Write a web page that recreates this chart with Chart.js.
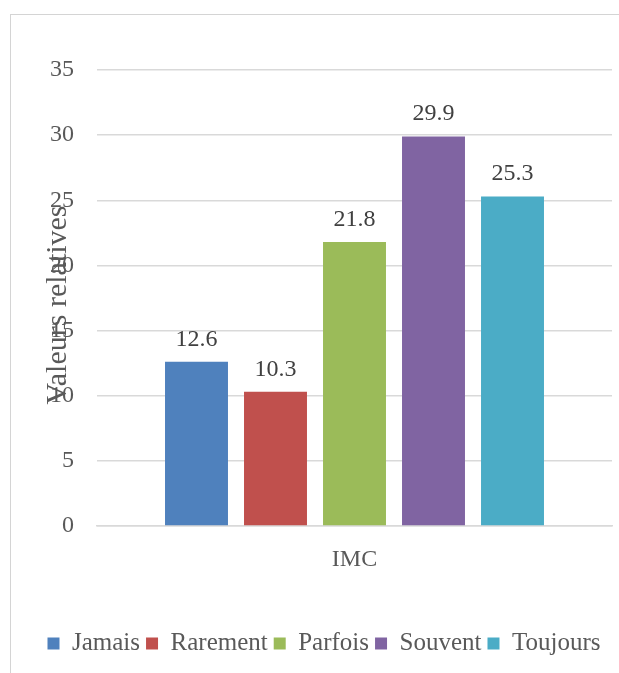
<!DOCTYPE html>
<html>
<head>
<meta charset="utf-8">
<title>IMC</title>
<script src="https://cdn.jsdelivr.net/npm/chart.js@4/dist/chart.umd.min.js"></script>
<style>
    html, body { margin: 0; padding: 0; background: #fff; }
    #wrap { position: relative; width: 619px; height: 673px; overflow: hidden; }
    #frame { position: absolute; left: 10px; top: 14px; width: 700px; height: 700px; border: 1px solid #d4d4d4; box-sizing: border-box; }
    #chart { position: absolute; left: 0; top: 0; }
</style>
</head>
<body>
<div id="wrap">
    <div id="frame"></div>
    <canvas id="chart" width="619" height="673"></canvas>
</div>
<script>
// data
var categories = ['IMC'];
var seriesNames = ['Jamais', 'Rarement', 'Parfois', 'Souvent', 'Toujours'];
var seriesValues = [12.6, 10.3, 21.8, 29.9, 25.3];
var seriesColors = ['#4F81BD', '#C0504D', '#9BBB59', '#8064A2', '#4BACC6'];
var yMax = 35;
var yStep = 5;
var yTitle = 'Valeurs relatives';

Chart.defaults.font.family = '"Liberation Serif", serif';
Chart.defaults.color = '#595959';

// value labels above each bar
var valueLabels = {
    id: 'valueLabels',
    afterDatasetsDraw: function (chart) {
        var ctx = chart.ctx;
        ctx.save();
        ctx.font = '24px "Liberation Serif"';
        ctx.fillStyle = '#404040';
        ctx.textAlign = 'center';
        ctx.textBaseline = 'alphabetic';
        chart.data.datasets.forEach(function (ds, i) {
            chart.getDatasetMeta(i).data.forEach(function (bar, j) {
                ctx.fillText(ds.data[j].toFixed(1), bar.x, bar.y - 16);
            });
        });
        ctx.restore();
    }
};

// y axis title, drawn over the tick labels like in the original
var yAxisTitle = {
    id: 'yAxisTitle',
    afterDraw: function (chart) {
        var ctx = chart.ctx;
        var area = chart.chartArea;
        ctx.save();
        ctx.font = '30px "Liberation Serif"';
        ctx.fillStyle = '#595959';
        ctx.textAlign = 'center';
        ctx.textBaseline = 'alphabetic';
        ctx.translate(66, (area.top + area.bottom) / 2 + 7);
        ctx.rotate(-Math.PI / 2);
        ctx.fillText(yTitle, 0, 0);
        ctx.restore();
    }
};

var datasets = seriesNames.map(function (name, i) {
    return {
        label: name,
        data: [seriesValues[i]],
        backgroundColor: seriesColors[i],
        borderWidth: 0,
        categoryPercentage: 0.767,
        barPercentage: 0.797
    };
});

new Chart(document.getElementById('chart').getContext('2d'), {
    type: 'bar',
    data: { labels: categories, datasets: datasets },
    options: {
        responsive: false,
        animation: false,
        layout: { padding: { left: 36, right: 7, top: 70, bottom: 7 } },
        plugins: {
            legend: {
                position: 'bottom',
                labels: {
                    boxWidth: 12,
                    boxHeight: 12,
                    padding: 6,
                    color: '#595959',
                    font: { size: 25 }
                }
            },
            tooltip: { enabled: false }
        },
        scales: {
            x: {
                grid: { display: false },
                border: { color: '#d9d9d9', width: 1.5 },
                ticks: { padding: 11, color: '#595959', font: { size: 24 } },
                afterFit: function (scale) { scale.height = 99; }
            },
            y: {
                min: 0,
                max: yMax,
                ticks: { stepSize: yStep, padding: 23, color: '#595959', font: { size: 24 } },
                grid: { color: '#d9d9d9', lineWidth: 1.5, drawTicks: false },
                border: { display: false },
                afterFit: function (scale) { scale.width = 61; }
            }
        }
    },
    plugins: [valueLabels, yAxisTitle]
});
</script>
</body>
</html>
